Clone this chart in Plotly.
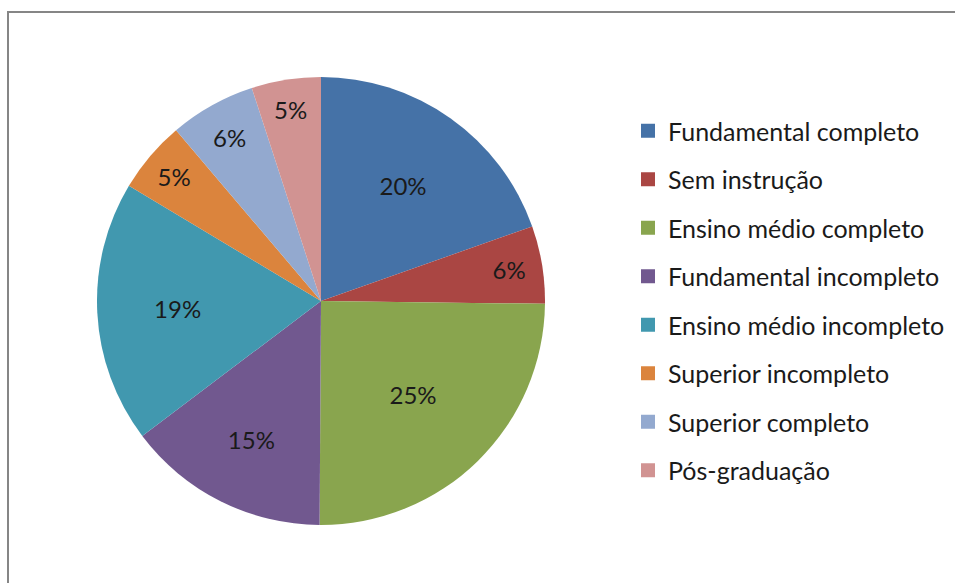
import plotly.graph_objects as go

categories = ["Fundamental completo", "Sem instrução", "Ensino médio completo",
              "Fundamental incompleto", "Ensino médio incompleto",
              "Superior incompleto", "Superior completo", "Pós-graduação"]
values = [19.6, 5.6, 24.9, 14.6, 18.9, 5.2, 6.2, 5.0]
colors = ["#4572A7", "#AA4643", "#89A54E", "#71588F",
          "#4198AF", "#DB843D", "#93A9CF", "#D19392"]

W, H = 955, 583
FONT = "Lato, Carlito, Calibri, sans-serif"

fig = go.Figure()
cx, cy, r = 321, 301, 224
fig.add_trace(go.Pie(
    labels=categories, values=values, sort=False, direction="clockwise",
    rotation=0, marker=dict(colors=colors, line=dict(width=0)),
    texttemplate="%{percent:.0%}", textposition="inside",
    insidetextorientation="horizontal",
    textfont=dict(family=FONT, size=24, color="#1a1a1a"),
    showlegend=False, hoverinfo="label+percent",
    domain=dict(x=[(cx - r) / W, (cx + r) / W], y=[1 - (cy + r) / H, 1 - (cy - r) / H]),
))
for name, col in zip(categories, colors):
    fig.add_trace(go.Scatter(
        x=[None], y=[None], mode="markers", name=name, legendgroup=name,
        marker=dict(symbol="square", size=14, color=col),
        showlegend=True,
    ))

fig.add_shape(type="rect", xref="paper", yref="paper",
              x0=8 / W, x1=1.05, y0=-0.05, y1=1 - 12 / H,
              line=dict(color="#868686", width=2), fillcolor="rgba(0,0,0,0)")

fig.update_layout(
    width=W, height=H, margin=dict(l=0, r=0, t=0, b=0),
    paper_bgcolor="white", plot_bgcolor="white",
    xaxis=dict(visible=False), yaxis=dict(visible=False),
    legend=dict(x=628 / W, y=1 - 108 / H, xanchor="left", yanchor="top",
                font=dict(family=FONT, size=25, color="#1a1a1a"),
                tracegroupgap=13, bgcolor="rgba(0,0,0,0)", itemclick=False),
    font=dict(family=FONT),
)
fig.write_html("out.html", config={"displayModeBar": False},
               post_script="document.body.style.margin='0';document.body.style.overflow='hidden';")
